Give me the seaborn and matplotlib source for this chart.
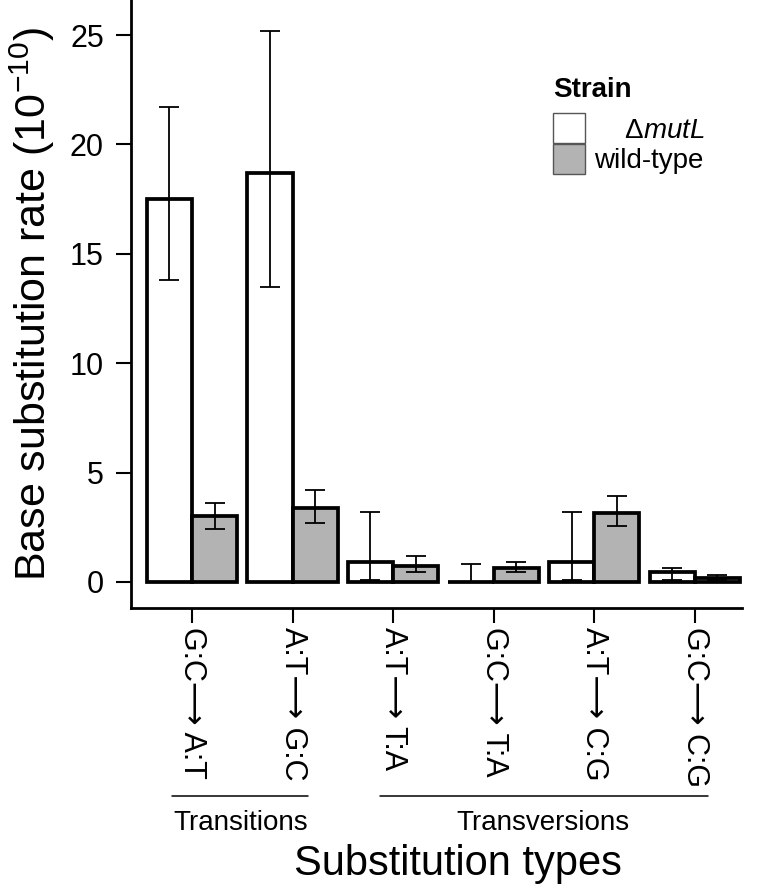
import seaborn as sns
import matplotlib.pyplot as plt
import matplotlib.transforms as mtransforms
import pandas as pd
import numpy as np

categories = ["G:C\u27f6 A:T", "A:T\u27f6 G:C", "A:T\u27f6 T:A", "G:C\u27f6 T:A", "A:T\u27f6 C:G", "G:C\u27f6 C:G"]
strains = ["mutL", "wild-type"]

mutl_rate = [17.5, 18.7, 0.9, 0.0, 0.9, 0.45]
mutl_low = [13.8, 13.5, 0.1, 0.0, 0.1, 0.1]
mutl_high = [21.7, 25.2, 3.2, 0.8, 3.2, 0.65]

wt_rate = [3.0, 3.4, 0.75, 0.65, 3.15, 0.2]
wt_low = [2.4, 2.7, 0.44, 0.44, 2.55, 0.1]
wt_high = [3.6, 4.2, 1.17, 0.9, 3.95, 0.33]

df = pd.DataFrame({
    "type": categories * 2,
    "strain": [strains[0]] * 6 + [strains[1]] * 6,
    "rate": mutl_rate + wt_rate,
})

sns.set_style("ticks")
plt.rcParams["font.family"] = ["Liberation Sans", "DejaVu Sans"]
plt.rcParams["mathtext.fontset"] = "custom"
plt.rcParams["mathtext.rm"] = "Liberation Sans"
plt.rcParams["mathtext.it"] = "Liberation Sans:italic"
plt.rcParams["mathtext.bf"] = "Liberation Sans:bold"
for k in ["text.color", "axes.labelcolor", "xtick.color", "ytick.color", "axes.edgecolor"]:
    plt.rcParams[k] = "black"

fig = plt.figure(figsize=(7.6, 8.9), dpi=100)
ax = fig.add_axes([0.1724, 0.3169, 0.8036, 0.6831])

sns.barplot(data=df, x="type", y="rate", hue="strain", order=categories,
            hue_order=strains, palette=["white", "#b3b3b3"], width=0.9,
            edgecolor="black", linewidth=2.7, errorbar=None, ax=ax)

# asymmetric error bars at bar centres
for cont, rate, low, high in zip(ax.containers, [mutl_rate, wt_rate],
                                 [mutl_low, wt_low], [mutl_high, wt_high]):
    xs = [b.get_x() + b.get_width() / 2 for b in cont]
    r = np.array(rate)
    yerr = [r - np.array(low), np.array(high) - r]
    ax.errorbar(xs, r, yerr=yerr, fmt="none", ecolor="black",
                elinewidth=1.3, capsize=7.5, capthick=1.3, zorder=5)

ax.set_xlim(-0.606, 5.467)
ax.set_ylim(-1.19, 26.6)
ax.set_yticks([0, 5, 10, 15, 20, 25])
sns.despine(ax=ax)
for s in ["left", "bottom"]:
    ax.spines[s].set_linewidth(2.0)
ax.tick_params(axis="both", direction="out", length=10.5, width=1.5, colors="black")
ax.tick_params(axis="y", labelsize=22, pad=9)
ax.tick_params(axis="x", labelsize=22, pad=3.5)
for lab in ax.get_xticklabels():
    lab.set_rotation(270)
    lab.set_va("top")
    lab.set_ha("center")

ax.set_xlabel("")
ax.set_ylabel(r"Base substitution rate (10$^{-10}$)", fontsize=31, labelpad=9)

# group brackets under the tick labels
trans = mtransforms.blended_transform_factory(ax.transData, fig.transFigure)
ax.plot([-0.2, 1.15], [0.1056, 0.1056], transform=trans, color="black", lw=1.1, clip_on=False)
ax.plot([1.87, 5.13], [0.1056, 0.1056], transform=trans, color="black", lw=1.1, clip_on=False)
ax.text(0.487, 0.0675, "Transitions", transform=trans, ha="center", va="baseline", fontsize=20)
ax.text(3.49, 0.0675, "Transversions", transform=trans, ha="center", va="baseline", fontsize=20)
fig.text(0.602, 0.0169, "Substitution types", ha="center", va="baseline", fontsize=30)

handles, _ = ax.get_legend_handles_labels()
leg = ax.legend(handles, ["    $\\Delta\\mathit{mutL}$", "wild-type"], title="Strain",
                loc="upper left", bbox_to_anchor=(0.728, 0.913),
                bbox_transform=fig.transFigure, frameon=False, fontsize=20,
                title_fontproperties={"weight": "bold", "size": 20},
                handlelength=1.15, handleheight=1.3, labelspacing=0.0,
                handletextpad=0.3, borderpad=0, borderaxespad=0)
leg._legend_box.align = "left"
leg._legend_box.sep = 7
for h in leg.legend_handles:
    h.set_edgecolor("#555555")
    h.set_linewidth(1.0)

fig.savefig("out.png", dpi=100)
